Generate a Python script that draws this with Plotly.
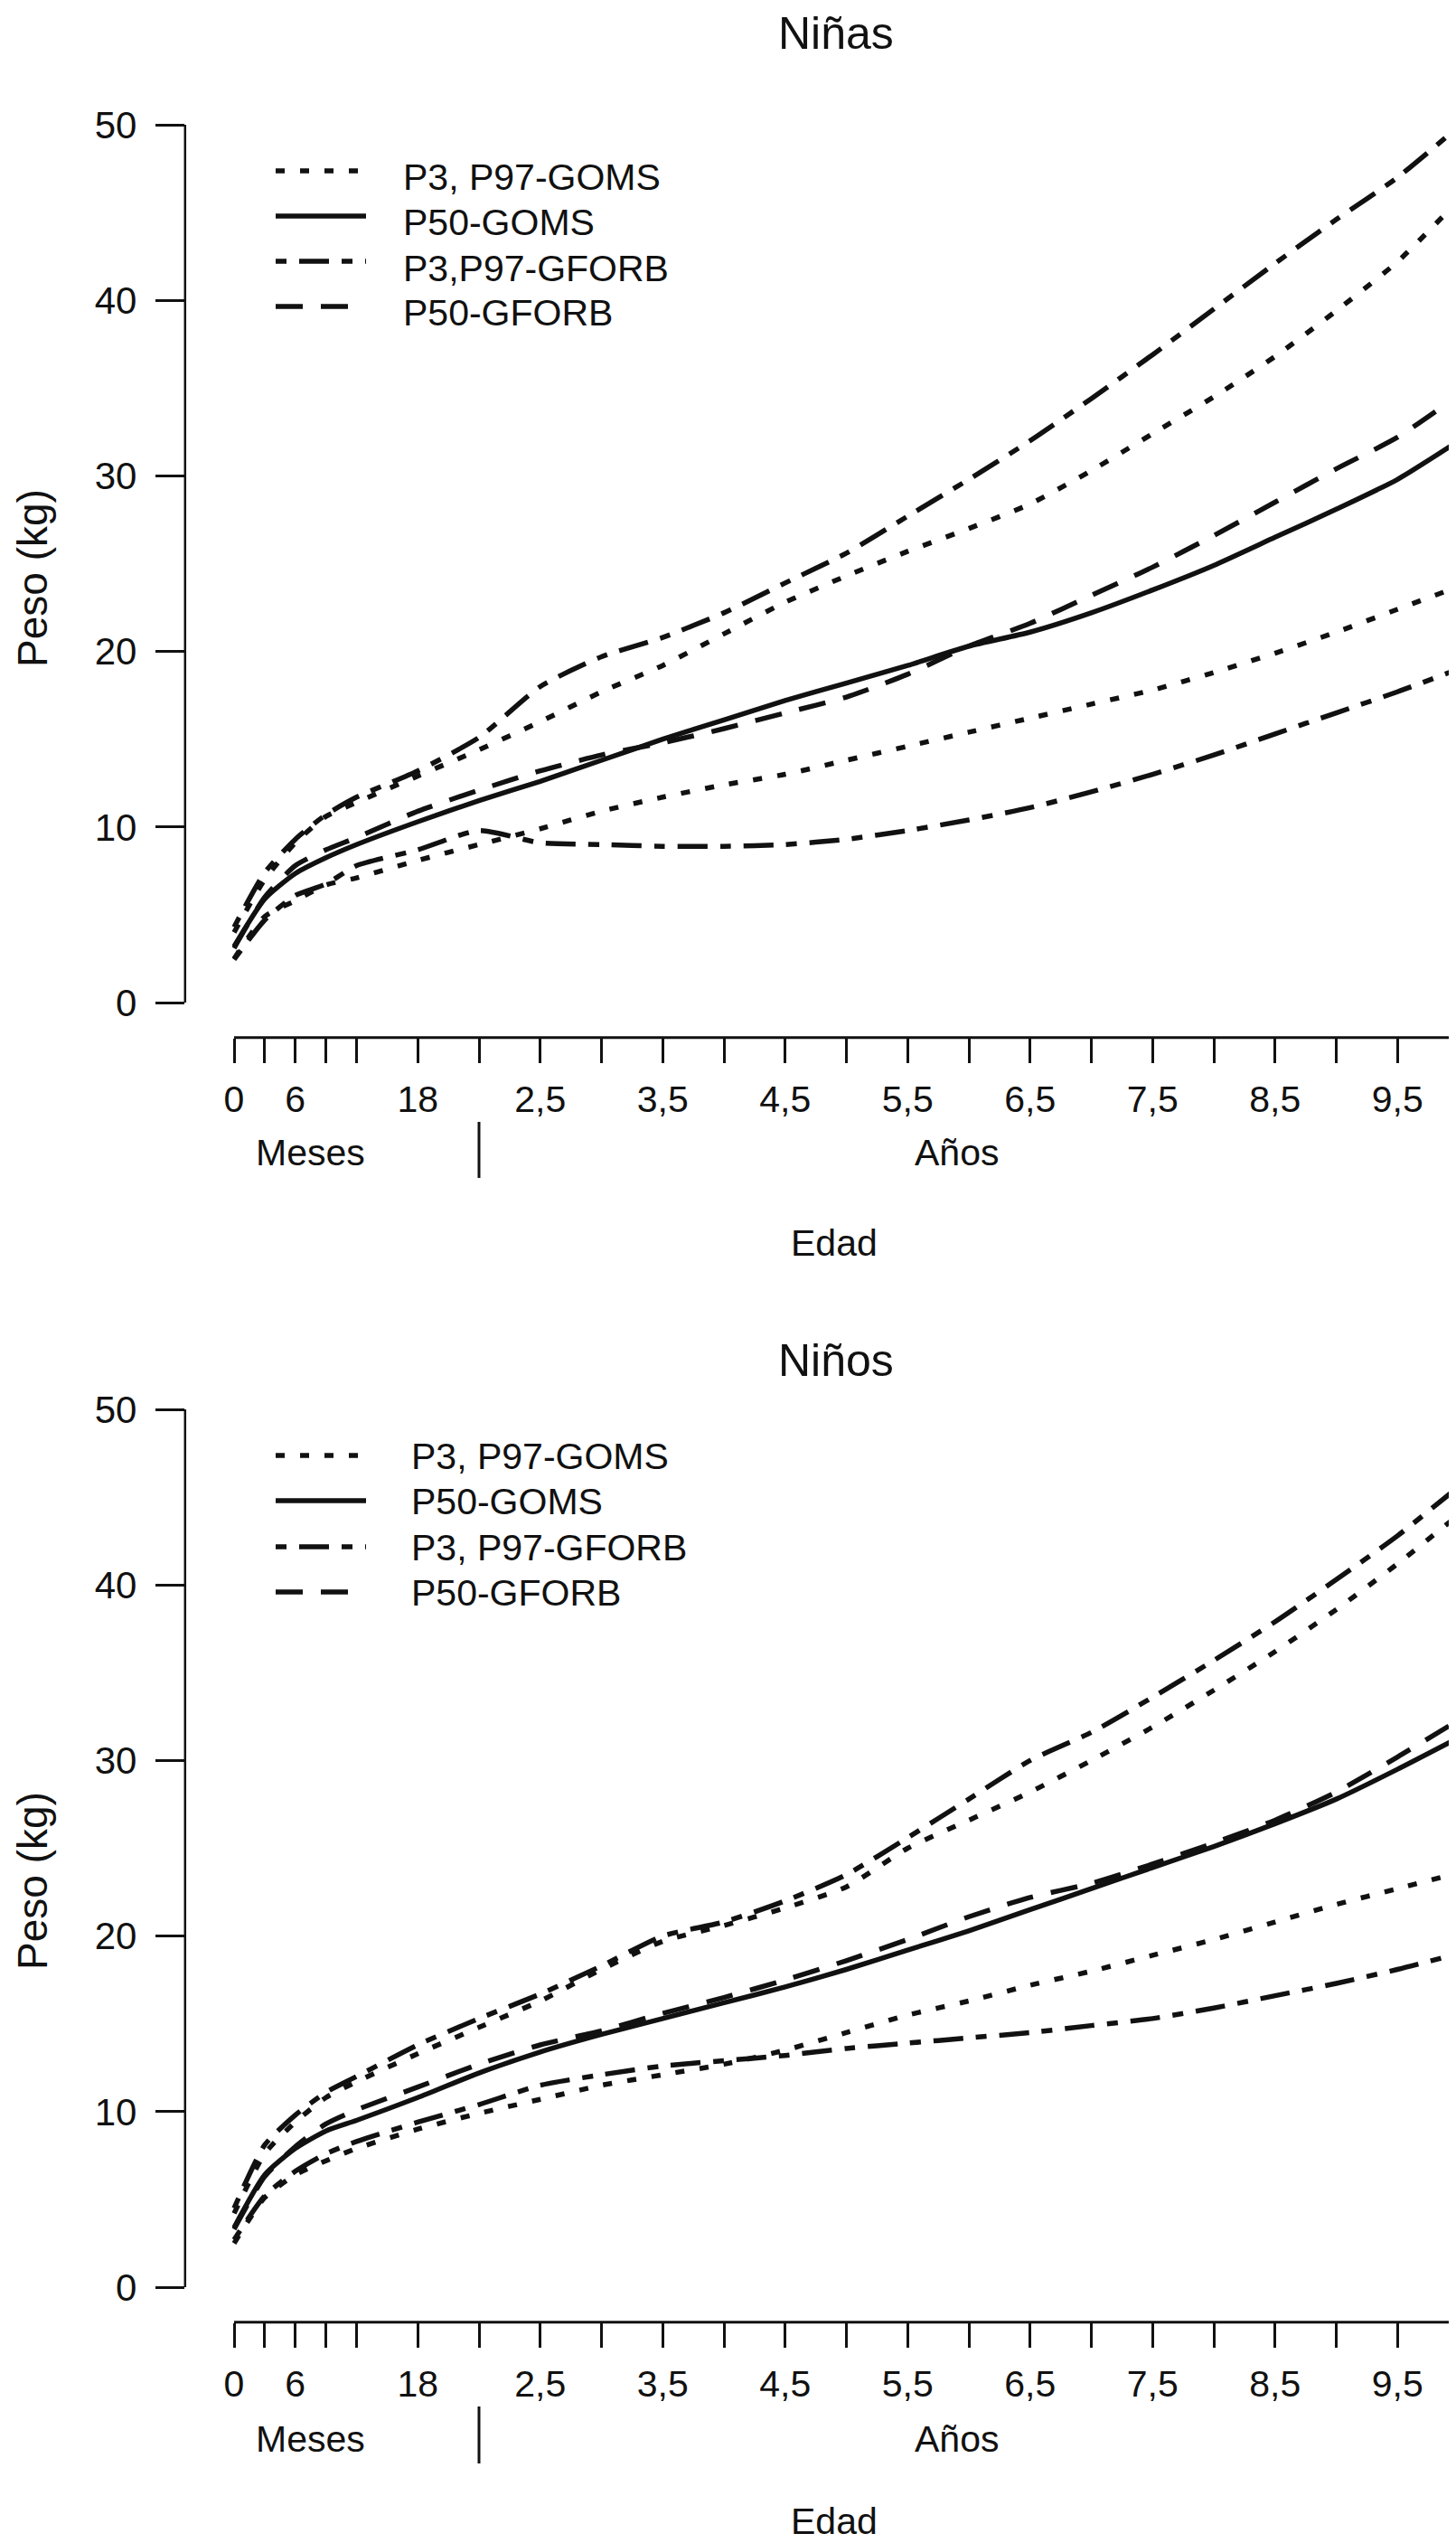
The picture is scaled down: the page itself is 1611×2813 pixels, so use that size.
import plotly.graph_objects as go

# ---------------- data ----------------
months = [0, 3, 6, 9, 12, 18, 24, 30, 36, 42, 48, 54, 60, 66, 72, 78, 84, 90, 96, 102, 108, 114, 120]

x_tickvals = [0, 3, 6, 9, 12, 18, 24, 30, 36, 42, 48, 54, 60, 66, 72, 78, 84, 90, 96, 102, 108, 114, 120]
x_ticktext = ["0", "", "6", "", "", "18", "", "2,5", "", "3,5", "", "4,5", "", "5,5", "",
              "6,5", "", "7,5", "", "8,5", "", "9,5", ""]
y_tickvals = [0, 10, 20, 30, 40, 50]

# Niñas
ninas_p3_goms = [2.5, 4.9, 5.8, 6.7, 7.1, 8.1, 9.0, 9.9, 10.9, 11.7, 12.4, 13.0, 13.8, 14.6, 15.4, 16.2, 17.0, 17.8, 18.8, 19.9, 21.1, 22.4, 23.7]
ninas_p97_goms = [4.0, 7.0, 9.1, 10.6, 11.4, 12.9, 14.4, 16.0, 17.7, 19.2, 21.0, 22.8, 24.3, 25.7, 27.0, 28.4, 30.3, 32.4, 34.5, 36.8, 39.4, 42.2, 45.7]
ninas_p50_goms = [3.2, 5.9, 7.35, 8.25, 9.0, 10.3, 11.5, 12.6, 13.8, 15.0, 16.1, 17.2, 18.2, 19.2, 20.3, 21.1, 22.2, 23.5, 24.9, 26.5, 28.1, 29.8, 32.0]
ninas_p3_gforb = [2.45, 4.7, 6.1, 6.75, 7.8, 8.7, 9.8, 9.1, 9.0, 8.9, 8.9, 9.0, 9.3, 9.8, 10.4, 11.1, 12.0, 13.0, 14.1, 15.3, 16.5, 17.7, 19.0]
ninas_p97_gforb = [4.3, 7.4, 9.3, 10.7, 11.7, 13.2, 15.1, 18.0, 19.7, 20.8, 22.2, 23.9, 25.6, 27.7, 29.8, 32.0, 34.4, 36.9, 39.5, 42.1, 44.6, 47.0, 49.9]
ninas_p50_gforb = [3.1, 6.0, 7.8, 8.7, 9.4, 10.9, 12.1, 13.2, 14.1, 14.8, 15.6, 16.5, 17.4, 18.7, 20.3, 21.6, 23.2, 24.8, 26.6, 28.5, 30.4, 32.2, 34.6]

# Niños
ninos_p3_goms = [2.5, 5.1, 6.4, 7.2, 7.9, 9.0, 9.9, 10.7, 11.5, 12.1, 12.7, 13.5, 14.5, 15.5, 16.3, 17.2, 18.0, 18.9, 19.8, 20.8, 21.8, 22.7, 23.6]
ninos_p97_goms = [4.2, 7.6, 9.4, 10.8, 11.7, 13.3, 14.8, 16.3, 18.1, 19.7, 20.6, 21.6, 22.8, 25.0, 26.6, 28.2, 30.0, 31.9, 34.0, 36.2, 38.6, 41.2, 44.0]
ninos_p50_goms = [3.4, 6.4, 7.9, 8.9, 9.5, 10.8, 12.2, 13.4, 14.4, 15.3, 16.2, 17.1, 18.1, 19.2, 20.3, 21.5, 22.7, 23.9, 25.1, 26.4, 27.8, 29.5, 31.3]
ninos_p3_gforb = [2.7, 5.2, 6.6, 7.6, 8.3, 9.4, 10.4, 11.5, 12.1, 12.6, 12.9, 13.2, 13.6, 13.9, 14.2, 14.5, 14.9, 15.3, 15.9, 16.6, 17.3, 18.1, 19.0]
ninos_p97_gforb = [4.5, 8.1, 9.8, 11.1, 12.0, 13.8, 15.3, 16.7, 18.3, 20.0, 20.8, 22.0, 23.5, 25.6, 27.8, 30.0, 31.6, 33.6, 35.7, 37.9, 40.3, 42.8, 45.6]
ninos_p50_gforb = [3.3, 6.3, 8.0, 9.3, 10.1, 11.4, 12.7, 13.8, 14.6, 15.6, 16.5, 17.5, 18.6, 19.8, 21.1, 22.2, 23.0, 24.1, 25.3, 26.6, 28.2, 30.2, 32.3]

legend_top = ["P3, P97-GOMS", "P50-GOMS", "P3,P97-GFORB", "P50-GFORB"]
legend_bottom = ["P3, P97-GOMS", "P50-GOMS", "P3, P97-GFORB", "P50-GFORB"]

# ---------------- style ----------------
W, H = 1611, 2813
FONT = "Liberation Sans, Arial, Helvetica, sans-serif"
INK = "#111111"
LW = 5.5
DOT = "10px,17px"
DASH = "30px,20px"
DASHDOT = "12px,14px,33px,14px"
LEG_DASH = [DOT, "solid", DASHDOT, DASH]


def px(p):
    return p / W


def py(p):
    return 1 - p / H


panels = [
    dict(title="Niñas", xa="x", ya="y", y50=130, y0=1101, title_top=0, peso_y=632,
         sep=(1233, 1295), lab_y=1267, edad_y=1367, edad_anchor="middle",
         leg_lines=[181, 231, 281, 331], leg_text=[188, 238, 289, 338], leg_tx=436,
         leg_labels=legend_top,
         series=[(ninas_p3_goms, DOT), (ninas_p97_goms, DOT), (ninas_p50_goms, "solid"),
                 (ninas_p3_gforb, DASHDOT), (ninas_p97_gforb, DASHDOT), (ninas_p50_gforb, DASH)]),
    dict(title="Niños", xa="x2", ya="y2", y50=1551, y0=2522, title_top=1468, peso_y=2073,
         sep=(2654, 2717), lab_y=2690, edad_y=2805, edad_anchor="bottom",
         leg_lines=[1602, 1652, 1703, 1753], leg_text=[1603, 1653, 1704, 1754], leg_tx=445,
         leg_labels=legend_bottom,
         series=[(ninos_p3_goms, DOT), (ninos_p97_goms, DOT), (ninos_p50_goms, "solid"),
                 (ninos_p3_gforb, DASHDOT), (ninos_p97_gforb, DASHDOT), (ninos_p50_gforb, DASH)]),
]

X0_PX, X120_PX = 251, 1606
ppm = (X120_PX - X0_PX) / 120.0
x_range = [-4.8, 120 + (W - X120_PX) / ppm]
x_dom = [(X0_PX - 4.8 * ppm) / W, 1.0]

fig = go.Figure()
shapes = []
annotations = []
layout_axes = {}

for i, p in enumerate(panels):
    xa, ya = p["xa"], p["ya"]
    xname = "xaxis" if xa == "x" else "xaxis2"
    yname = "yaxis" if ya == "y" else "yaxis2"
    ppk = (p["y0"] - p["y50"]) / 50.0
    top_px = p["y50"] - 2 * ppk
    bot_px = p["y0"] + 2 * ppk

    for vals, dash in p["series"]:
        fig.add_trace(go.Scatter(x=months, y=vals, mode="lines", xaxis=xa, yaxis=ya,
                                 line=dict(color=INK, width=LW, dash=dash, shape="spline", smoothing=0.6),
                                 showlegend=False, hoverinfo="skip"))

    layout_axes[xname] = dict(domain=x_dom, range=x_range, anchor=ya, showgrid=False, zeroline=False,
                              showline=False, ticks="outside", ticklen=27, tickwidth=2.5, tickcolor=INK,
                              tickvals=x_tickvals, ticktext=x_ticktext, ticklabelstandoff=5,
                              tickfont=dict(family=FONT, size=41, color=INK))
    layout_axes[yname] = dict(domain=[py(bot_px), py(top_px)], range=[-2, 52], anchor=xa, showgrid=False,
                              zeroline=False, showline=False, ticks="outside", ticklen=32, tickwidth=2.5,
                              tickcolor=INK, tickvals=y_tickvals, ticklabelstandoff=12,
                              tickfont=dict(family=FONT, size=42, color=INK))

    # axis lines (R-style, spanning only the tick range)
    shapes.append(dict(type="line", xref=f"{xa} domain", yref=ya, x0=0, x1=0, y0=0, y1=50,
                       line=dict(color=INK, width=2.5)))
    shapes.append(dict(type="line", xref=xa, yref=f"{ya} domain", x0=0, x1=120, y0=0, y1=0,
                       line=dict(color=INK, width=3)))
    # Meses | Años separator
    shapes.append(dict(type="line", xref=xa, yref="paper", x0=24, x1=24,
                       y0=py(p["sep"][1]), y1=py(p["sep"][0]), line=dict(color=INK, width=3)))

    # legend
    for j in range(4):
        shapes.append(dict(type="line", xref="paper", yref="paper", x0=px(297), x1=px(397),
                           y0=py(p["leg_lines"][j]), y1=py(p["leg_lines"][j]),
                           line=dict(color=INK, width=LW, dash=LEG_DASH[j])))
        annotations.append(dict(text=p["leg_labels"][j], xref="paper", yref="paper",
                                x=px(p["leg_tx"]), y=py(p["leg_text"][j]), xanchor="left", yanchor="middle",
                                showarrow=False, font=dict(family=FONT, size=41, color=INK)))

    annotations.append(dict(text=p["title"], xref="paper", yref="paper", x=px(917), y=py(p["title_top"]),
                            xanchor="center", yanchor="top", showarrow=False, borderpad=0,
                            font=dict(family=FONT, size=50, color=INK)))
    annotations.append(dict(text="Peso (kg)", xref="paper", yref="paper", x=px(28), y=py(p["peso_y"]),
                            xanchor="center", yanchor="middle", textangle=-90, showarrow=False,
                            font=dict(family=FONT, size=46, color=INK)))
    annotations.append(dict(text="Meses", xref=xa, yref="paper", x=7.5, y=py(p["lab_y"]),
                            xanchor="center", yanchor="middle", showarrow=False,
                            font=dict(family=FONT, size=41, color=INK)))
    annotations.append(dict(text="Años", xref=xa, yref="paper", x=70.8, y=py(p["lab_y"]),
                            xanchor="center", yanchor="middle", showarrow=False,
                            font=dict(family=FONT, size=41, color=INK)))
    annotations.append(dict(text="Edad", xref="paper", yref="paper", x=px(915), y=py(p["edad_y"]),
                            xanchor="center", yanchor=p["edad_anchor"], showarrow=False, borderpad=0,
                            font=dict(family=FONT, size=41, color=INK)))

fig.update_layout(width=W, height=H, margin=dict(l=0, r=0, t=0, b=0),
                  paper_bgcolor="white", plot_bgcolor="white", showlegend=False,
                  font=dict(family=FONT, color=INK),
                  shapes=shapes, annotations=annotations, **layout_axes)

fig.write_html("out.html")
